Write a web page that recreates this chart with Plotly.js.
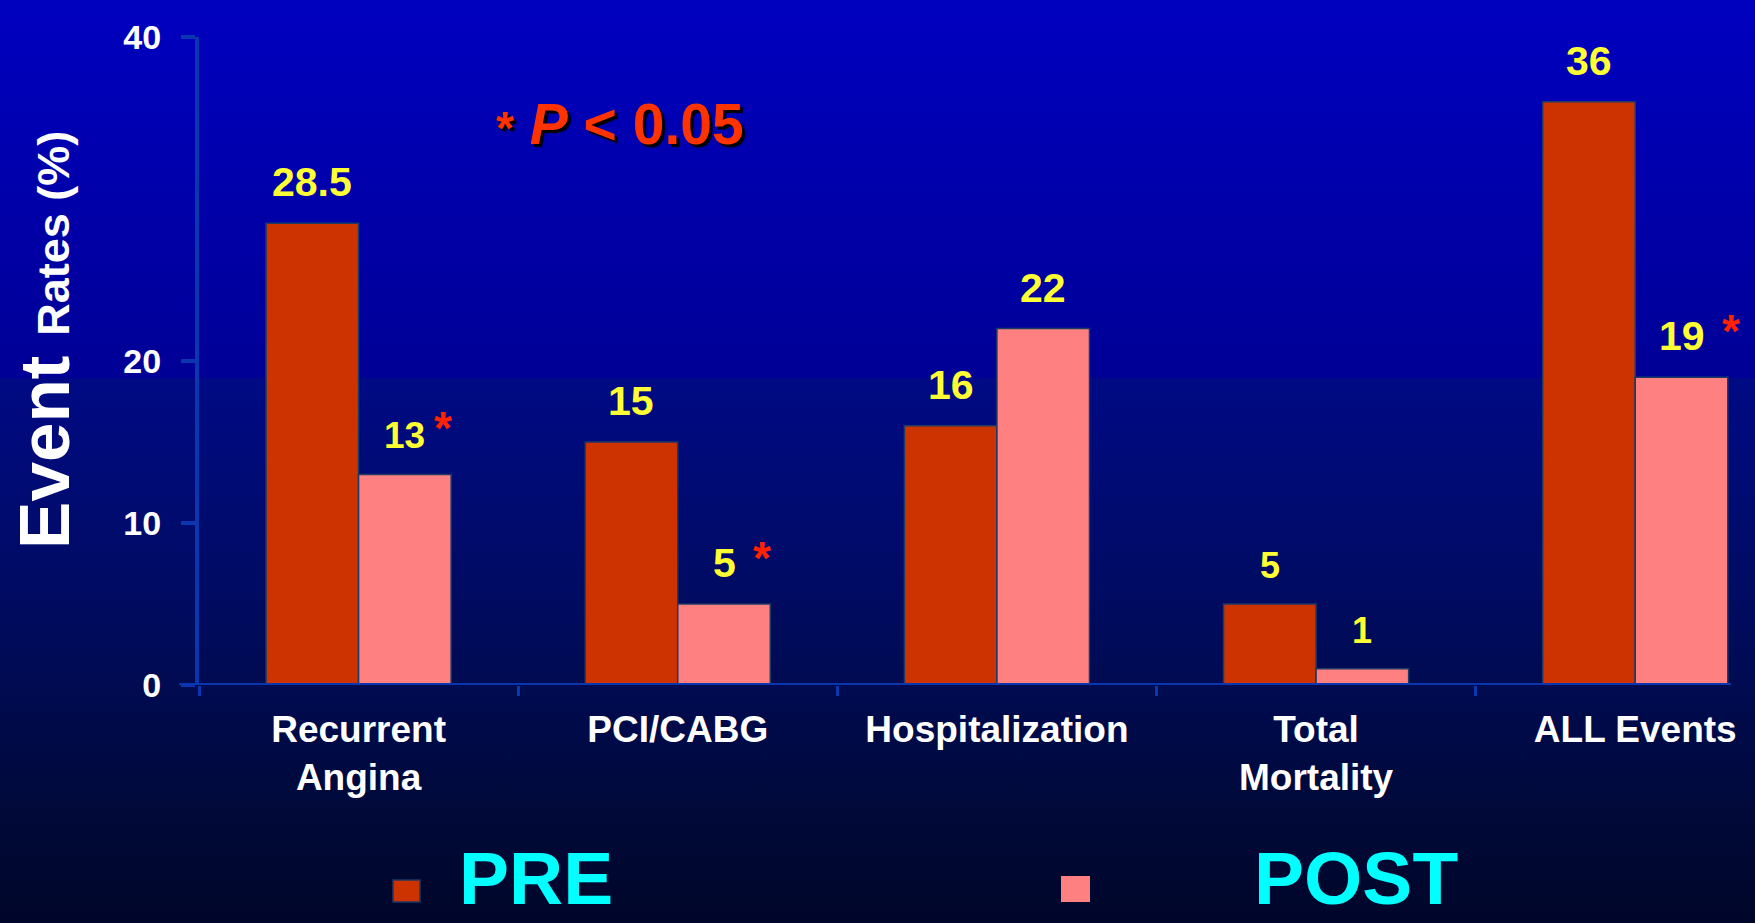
<!DOCTYPE html>
<html>
<head>
<meta charset="utf-8">
<script src="https://cdn.plot.ly/plotly-3.0.1.min.js"></script>
<style>
  html, body { margin: 0; padding: 0; }
  body {
    width: 1755px; height: 923px; overflow: hidden;
    background: linear-gradient(to bottom,
      #0000c0 0%, #000096 40.8%, #000a84 41.1%, #000b6c 58%,
      #000b52 74%, #000938 88%, #00062a 100%);
  }
  #chart { width: 1755px; height: 923px; }
</style>
</head>
<body>
<div id="chart"></div>
<script>
// Event rates (%) before and after, per outcome
const categories = ['Recurrent<br>Angina', 'PCI/CABG', 'Hospitalization', 'Total<br>Mortality', 'ALL Events'];
const preValues  = [28.5, 15, 16, 5, 36];
const postValues = [13, 5, 22, 1, 19];
// significance flags (* P < 0.05) shown beside the POST values
const postSignificant = [true, true, false, false, true];
const seriesNames = ['PRE', 'POST'];
const yTickValues = [0, 10, 20, 40];

const FONT = 'Liberation Sans, Arial, sans-serif';
const PRE_COLOR = '#cc3300';
const POST_COLOR = '#ff8080';
const AXIS_COLOR = '#0a36b0';
const LABEL_YELLOW = '#ffff33';
const STAR_RED = '#ff2200';

// label sizes per bar
const preLabelSize  = [41, 41, 41, 36, 41];
const postLabelSize = [37, 41, 41, 36, 41];

const BARGAP = 0.42;
const barHalf = (1 - BARGAP) / 4;   // offset of each bar centre from the category centre

const traces = [
  {
    type: 'bar', name: seriesNames[0], x: categories, y: preValues,
    marker: { color: PRE_COLOR, line: { color: '#1c3a66', width: 1.5 } },
    hoverinfo: 'y'
  },
  {
    type: 'bar', name: seriesNames[1], x: categories, y: postValues,
    marker: { color: POST_COLOR, line: { color: '#1c3a66', width: 1.5 } },
    hoverinfo: 'y'
  }
];

const annotations = [];
// value labels above each bar
preValues.forEach((v, i) => {
  annotations.push({
    x: i - barHalf, y: v, xref: 'x', yref: 'y', text: String(v),
    showarrow: false, yanchor: 'bottom', yshift: 16,
    font: { family: FONT, size: preLabelSize[i], color: LABEL_YELLOW, weight: 'bold' }
  });
});
postValues.forEach((v, i) => {
  annotations.push({
    x: i + barHalf, y: v, xref: 'x', yref: 'y', text: String(v),
    showarrow: false, yanchor: 'bottom', yshift: 16,
    font: { family: FONT, size: postLabelSize[i], color: LABEL_YELLOW, weight: 'bold' }
  });
  if (postSignificant[i]) {
    annotations.push({
      x: i + barHalf, y: v, xref: 'x', yref: 'y', text: '*',
      showarrow: false, xanchor: 'left', yanchor: 'bottom',
      xshift: (i === 4 ? 38 : 27), yshift: 18,
      font: { family: FONT, size: 46, color: STAR_RED, weight: 'bold' }
    });
  }
});

// significance key
annotations.push({
  x: 0.275, y: 0.865, xref: 'paper', yref: 'paper',
  text: '<span style="font-size:46px">*</span> <i>P</i> &lt; 0.05',
  showarrow: false, xanchor: 'center', yanchor: 'middle',
  font: { family: FONT, size: 57, color: '#ff3300', weight: 'bold', shadow: '3px 3px 1px #000000' }
});

// y-axis title with a larger first word
annotations.push({
  x: -0.101, y: 0.533, xref: 'paper', yref: 'paper', textangle: -90,
  text: 'Event <span style="font-size:45px">Rates (%)</span>',
  showarrow: false, xanchor: 'center', yanchor: 'middle',
  font: { family: FONT, size: 71, color: '#ffffff', weight: 'bold' }
});

// legend labels
annotations.push({
  x: (457 - 199) / 1532, y: (685 - 878) / 648, xref: 'paper', yref: 'paper',
  text: seriesNames[0], showarrow: false, xanchor: 'left', yanchor: 'middle',
  font: { family: FONT, size: 75, color: '#00ffff', weight: 'bold' }
});
annotations.push({
  x: (1252 - 199) / 1532, y: (685 - 878) / 648, xref: 'paper', yref: 'paper',
  text: seriesNames[1], showarrow: false, xanchor: 'left', yanchor: 'middle',
  font: { family: FONT, size: 75, color: '#00ffff', weight: 'bold' }
});

const shapes = [
  // baseline, running slightly past the y axis on the left
  { type: 'line', xref: 'paper', yref: 'y', x0: -0.013, x1: 1, y0: 0, y1: 0,
    line: { color: AXIS_COLOR, width: 4 } },
  // legend swatches
  { type: 'rect', xref: 'paper', yref: 'paper',
    x0: (393 - 199) / 1532, x1: (420 - 199) / 1532,
    y0: (685 - 902) / 648, y1: (685 - 880) / 648,
    fillcolor: PRE_COLOR, line: { color: '#1c3a66', width: 1.5 } },
  { type: 'rect', xref: 'paper', yref: 'paper',
    x0: (1061 - 199) / 1532, x1: (1090 - 199) / 1532,
    y0: (685 - 902) / 648, y1: (685 - 876) / 648,
    fillcolor: POST_COLOR, line: { width: 0 } }
];

const layout = {
  width: 1755, height: 923,
  margin: { l: 199, r: 24, t: 37, b: 238 },
  paper_bgcolor: 'rgba(0,0,0,0)',
  plot_bgcolor: 'rgba(0,0,0,0)',
  barmode: 'group', bargap: BARGAP, bargroupgap: 0,
  showlegend: false,
  xaxis: {
    type: 'category', range: [-0.5, 4.3],
    showgrid: false, zeroline: false, showline: false,
    ticks: 'outside', tickson: 'boundaries', ticklen: 10, tickwidth: 3, tickcolor: AXIS_COLOR,
    ticklabelstandoff: 19,
    tickfont: { family: FONT, size: 37, color: '#ffffff', weight: 'bold' }
  },
  yaxis: {
    range: [0, 40], tickvals: yTickValues,
    showgrid: false, zeroline: false,
    showline: true, linecolor: AXIS_COLOR, linewidth: 4,
    ticks: 'outside', ticklen: 14, tickwidth: 4, tickcolor: AXIS_COLOR,
    ticklabelstandoff: 13,
    tickfont: { family: FONT, size: 34, color: '#ffffff', weight: 'bold' }
  },
  annotations: annotations,
  shapes: shapes
};

Plotly.newPlot('chart', traces, layout, { staticPlot: true, displayModeBar: false });
</script>
</body>
</html>
